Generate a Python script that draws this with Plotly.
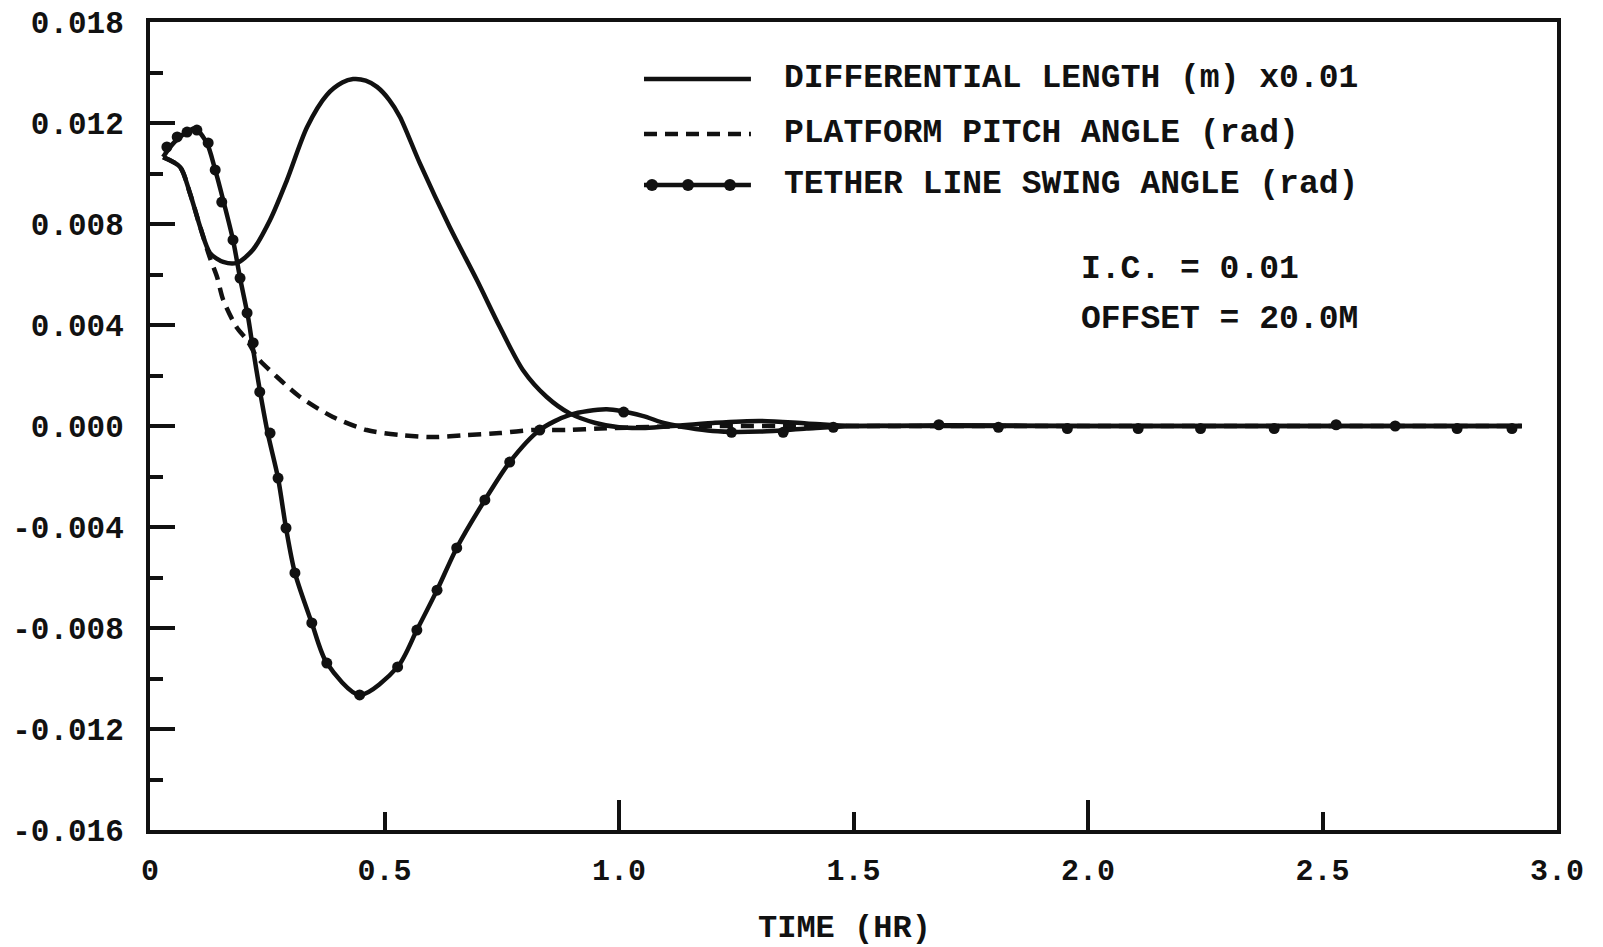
import plotly.graph_objects as go

# ---------------- data ----------------
# Differential length (m) x0.01  (solid)
diff_t = [0.028, 0.064, 0.085, 0.107, 0.128, 0.156, 0.185, 0.219, 0.256, 0.292,
          0.335, 0.377, 0.41, 0.433, 0.46, 0.484, 0.51, 0.533, 0.575, 0.639, 0.697, 0.746, 0.795,
          0.846, 0.895, 0.95, 1.0, 1.05, 1.1, 1.2, 1.3, 1.4, 1.5, 1.7, 2.0, 2.5, 2.925]
diff_v = [0.01065, 0.01026, 0.00923, 0.00788, 0.00685, 0.00650, 0.00646, 0.00697, 0.00816, 0.00974,
          0.01184, 0.01311, 0.01360, 0.01374, 0.01368, 0.01343, 0.01292, 0.01224, 0.01042, 0.00788,
          0.00578, 0.00392, 0.00222, 0.00115, 0.00050, 0.00012, -0.00005, -0.00008, -0.00002,
          0.00012, 0.00020, 0.00010, 0.0, 0.00003, 0.0, 0.0, 0.0]

# Platform pitch angle (rad)  (dashed)
pitch_t = [0.028, 0.064, 0.085, 0.107, 0.128, 0.143, 0.156, 0.185, 0.207, 0.228,
           0.271, 0.320, 0.390, 0.462, 0.533, 0.603, 0.675, 0.746, 0.816, 0.889,
           0.96, 1.065, 1.2, 1.4, 1.6, 2.0, 2.5, 2.925]
pitch_v = [0.01065, 0.01026, 0.00923, 0.00788, 0.00665, 0.0059, 0.0050, 0.0039, 0.0034, 0.00273,
           0.00194, 0.00115, 0.00036, -0.00016, -0.00036, -0.00044, -0.00036, -0.00028, -0.00016, -0.00016,
           -0.00010, -0.00004, 0.0, 0.0, 0.0, 0.0, 0.0, 0.0]

# Tether line swing angle (rad)  (solid with dots)
teth_t = [0.028, 0.043, 0.064, 0.095, 0.121, 0.139, 0.156, 0.177, 0.192, 0.209,
          0.219, 0.234, 0.251, 0.273, 0.290, 0.309, 0.345, 0.377, 0.447, 0.528,
          0.569, 0.612, 0.654, 0.714, 0.767, 0.831, 0.895, 0.974, 1.05, 1.1,
          1.2, 1.3, 1.4, 1.5, 1.7, 2.0, 2.5, 2.925]
teth_v = [0.01065, 0.01105, 0.01145, 0.01178, 0.01121, 0.01014, 0.00895, 0.00737, 0.00586, 0.00432,
          0.00313, 0.00143, -0.00028, -0.00206, -0.00404, -0.00582, -0.00780, -0.00939, -0.01065, -0.00954,
          -0.00808, -0.00650, -0.00483, -0.00293, -0.00143, -0.00016, 0.00044, 0.00066, 0.00040, 0.00010,
          -0.00020, -0.00022, -0.00010, 0.0, 0.0, 0.0, 0.0, 0.0]

# dot symbols drawn along the tether curve
dot_t = [0.036, 0.058, 0.079, 0.100, 0.124, 0.139, 0.153, 0.177, 0.192, 0.207,
         0.220, 0.234, 0.256, 0.273, 0.290, 0.309, 0.345, 0.377, 0.447, 0.528,
         0.569, 0.612, 0.654, 0.714, 0.767, 0.831, 1.01, 1.24, 1.35, 1.457,
         1.682, 1.809, 1.956, 2.107, 2.240, 2.397, 2.529, 2.655, 2.787, 2.904]
dot_v = [0.01105, 0.01145, 0.01164, 0.01172, 0.01121, 0.01014, 0.00887, 0.00737, 0.00586, 0.00448,
         0.00329, 0.00135, -0.00028, -0.00206, -0.00404, -0.00582, -0.00780, -0.00939, -0.01065, -0.00954,
         -0.00808, -0.00650, -0.00483, -0.00293, -0.00143, -0.00016, 0.00055, -0.00025, -0.00025, -0.00005,
         0.00005, -0.00005, -0.0001, -0.0001, -0.0001, -0.0001, 0.00005, 0.0, -0.0001, -0.0001]

x_ticks = [0, 0.5, 1.0, 1.5, 2.0, 2.5, 3.0]
x_ticktext = ["0", "0.5", "1.0", "1.5", "2.0", "2.5", "3.0"]
y_ticks = [-0.016, -0.012, -0.008, -0.004, 0.0, 0.004, 0.008, 0.012, 0.016]
y_ticktext = ["-0.016", "-0.012", "-0.008", "-0.004", "0.000", "0.004", "0.008", "0.012", "0.018"]
y_minor = [-0.014, -0.010, -0.006, -0.002, 0.002, 0.006, 0.010, 0.014]

legend_labels = ["DIFFERENTIAL LENGTH (m) x0.01",
                 "PLATFORM PITCH ANGLE (rad)",
                 "TETHER LINE SWING ANGLE (rad)"]
notes = ["I.C. = 0.01", "OFFSET = 20.0M"]

FONT = "Liberation Mono"
INK = "#111111"

fig = go.Figure()
fig.add_trace(go.Scatter(x=pitch_t, y=pitch_v, mode="lines",
                         line=dict(color=INK, width=4.5, dash="13px,8px", shape="spline", smoothing=0.8),
                         name=legend_labels[1], showlegend=False))
fig.add_trace(go.Scatter(x=diff_t, y=diff_v, mode="lines",
                         line=dict(color=INK, width=4.5, shape="spline", smoothing=0.8),
                         name=legend_labels[0], showlegend=False))
fig.add_trace(go.Scatter(x=teth_t, y=teth_v, mode="lines",
                         line=dict(color=INK, width=4.5, shape="spline", smoothing=0.8),
                         name=legend_labels[2], showlegend=False))
fig.add_trace(go.Scatter(x=dot_t, y=dot_v, mode="markers",
                         marker=dict(color=INK, size=11, symbol="circle"),
                         showlegend=False, hoverinfo="skip"))
# second x axis only to carry the longer ticks at whole hours
fig.add_trace(go.Scatter(x=[0, 3], y=[0, 0], xaxis="x2", mode="lines",
                         line=dict(width=0), showlegend=False, hoverinfo="skip"))

# page body has an 8 px margin, so margins are offset by 8 px
fig.update_layout(
    width=1603, height=947,
    margin=dict(l=142, r=54, t=14, b=125),
    paper_bgcolor="white", plot_bgcolor="white",
    font=dict(family=FONT, color=INK, size=31),
    xaxis=dict(range=[0, 3], tickmode="array", tickvals=x_ticks, ticktext=x_ticktext,
               ticks="inside", ticklen=18, tickwidth=4, tickcolor=INK, automargin=False,
               ticklabeloverflow="allow",
               showline=True, linewidth=4, linecolor=INK, mirror=True,
               showgrid=False, zeroline=False, ticklabelstandoff=10,
               tickfont=dict(family=FONT, size=30, color=INK, weight="bold")),
    xaxis2=dict(range=[0, 3], overlaying="x", anchor="y", side="bottom", automargin=False,
                tickmode="array", tickvals=[1.0, 2.0], ticks="inside", ticklen=30,
                tickwidth=4, tickcolor=INK, showticklabels=False, showline=False,
                showgrid=False, zeroline=False),
    yaxis=dict(range=[-0.016, 0.016], tickmode="array", tickvals=y_ticks, ticktext=y_ticktext,
               ticks="inside", ticklen=25, tickwidth=4, tickcolor=INK, automargin=False,
               ticklabeloverflow="allow",
               minor=dict(tickmode="array", tickvals=y_minor, ticks="inside", ticklen=13,
                          tickwidth=4, tickcolor=INK, showgrid=False),
               showline=True, linewidth=4, linecolor=INK, mirror=True,
               showgrid=False, zeroline=False, ticklabelstandoff=16,
               tickfont=dict(family=FONT, size=31, color=INK, weight="bold")),
    showlegend=False,
)

# x-axis title
fig.add_annotation(text="TIME (HR)", xref="paper", yref="paper", x=0.4936, y=-0.1213,
                   xanchor="center", yanchor="middle", showarrow=False,
                   font=dict(family=FONT, size=32, color=INK, weight="bold"))

# hand-drawn style legend (line samples + labels)
rows_y = [0.9295, 0.8614, 0.7983]
lx0, lx1, ltext = 0.3511, 0.4271, 0.4492
dashes = ["solid", "13px,8px", "solid"]
for i in range(3):
    fig.add_shape(type="line", xref="paper", yref="paper", x0=lx0, x1=lx1,
                  y0=rows_y[i], y1=rows_y[i], line=dict(color=INK, width=4.5, dash=dashes[i]))
    fig.add_annotation(text=legend_labels[i], xref="paper", yref="paper", x=ltext, y=rows_y[i],
                       xanchor="left", yanchor="middle", showarrow=False,
                       font=dict(family=FONT, size=33, color=INK, weight="bold"))
for fx in [0.3568, 0.3824, 0.4122]:
    fig.add_shape(type="circle", xref="paper", yref="paper", xsizemode="pixel", ysizemode="pixel",
                  xanchor=fx, yanchor=rows_y[2], x0=-6, x1=6, y0=-6, y1=6,
                  fillcolor=INK, line=dict(color=INK, width=0))

notes_y = [0.6943, 0.6324]
for i in range(2):
    fig.add_annotation(text=notes[i], xref="paper", yref="paper", x=0.6603, y=notes_y[i],
                       xanchor="left", yanchor="middle", showarrow=False,
                       font=dict(family=FONT, size=33, color=INK, weight="bold"))

fig.write_html("out.html")
